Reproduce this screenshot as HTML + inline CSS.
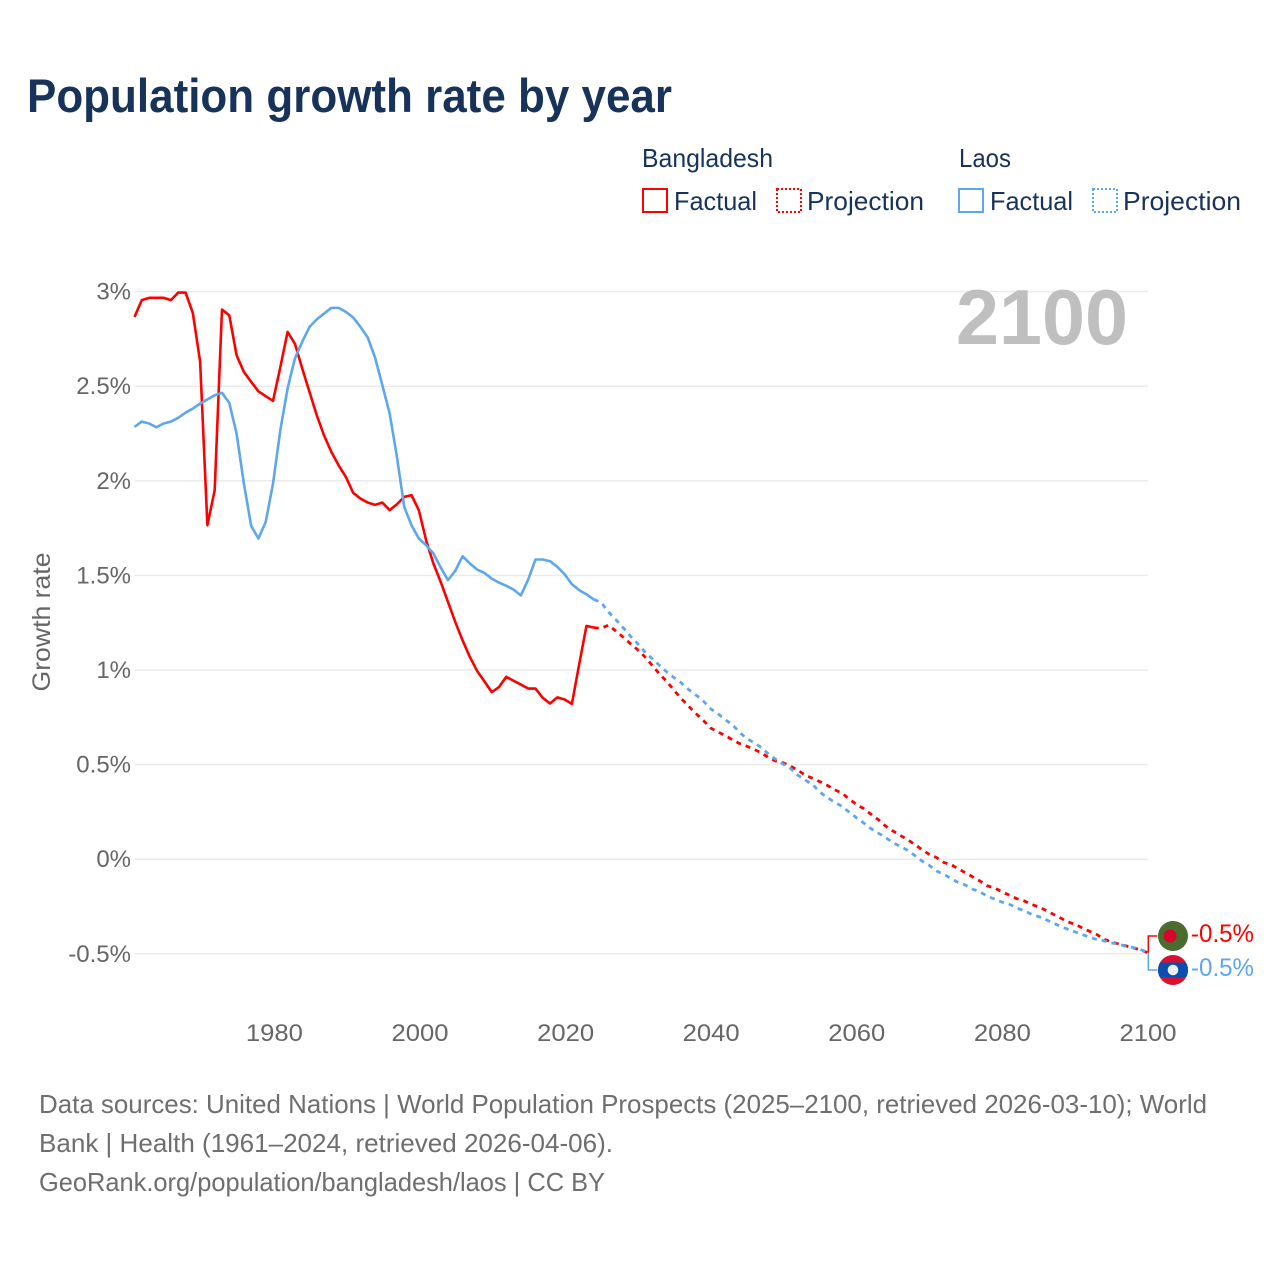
<!DOCTYPE html>
<html lang="en">
<head>
<meta charset="utf-8">
<title>Population growth rate by year</title>
<style>
html,body{margin:0;padding:0;background:#fff;}
svg{display:block;font-family:"Liberation Sans",sans-serif;}
</style>
</head>
<body>
<svg id="chart" xmlns="http://www.w3.org/2000/svg" width="1280" height="1280" viewBox="0 0 1280 1280">
  <rect x="0" y="0" width="1280" height="1280" fill="#ffffff"/>
  <text x="27" y="112" font-size="47" font-weight="700" fill="#18335a" textLength="645" lengthAdjust="spacingAndGlyphs">Population growth rate by year</text>

  <g font-size="26" fill="#18335a">
    <text x="642" y="167" textLength="131" lengthAdjust="spacingAndGlyphs">Bangladesh</text>
    <rect x="643" y="189" width="24" height="23" fill="none" stroke="#ff0000" stroke-width="2"/>
    <text x="674" y="210" textLength="83" lengthAdjust="spacingAndGlyphs">Factual</text>
    <rect x="777" y="189" width="24" height="23" fill="none" stroke="#ff0000" stroke-width="2" stroke-dasharray="2 2"/>
    <text x="807" y="210" textLength="117" lengthAdjust="spacingAndGlyphs">Projection</text>
    <text x="959" y="167" textLength="52" lengthAdjust="spacingAndGlyphs">Laos</text>
    <rect x="959" y="189" width="24" height="23" fill="none" stroke="#5ea6ee" stroke-width="2"/>
    <text x="990" y="210" textLength="83" lengthAdjust="spacingAndGlyphs">Factual</text>
    <rect x="1093" y="189" width="24" height="23" fill="none" stroke="#5ea6ee" stroke-width="2" stroke-dasharray="2 2"/>
    <text x="1123" y="210" textLength="118" lengthAdjust="spacingAndGlyphs">Projection</text>
  </g>

  <g id="grid"></g>
  <g id="yticks" font-size="24" fill="#666666" text-anchor="end"></g>
  <g id="xticks" font-size="24" fill="#666666" text-anchor="middle"></g>
  <text transform="translate(50,622) rotate(-90)" font-size="25" fill="#666666" text-anchor="middle" textLength="139" lengthAdjust="spacingAndGlyphs">Growth rate</text>
  <text x="956" y="344" font-size="78" font-weight="700" fill="#bfbfbf" textLength="172" lengthAdjust="spacingAndGlyphs">2100</text>

  <g id="series"></g>
  <g id="connectors"></g>

  <g>
    <circle cx="1173" cy="936" r="15" fill="#4c6b2f"/>
    <circle cx="1170" cy="936" r="6.5" fill="#d9042b"/>
  </g>
  <g>
    <clipPath id="laos-clip"><circle cx="1173" cy="970" r="15"/></clipPath>
    <circle cx="1173" cy="970" r="15" fill="#d9112f"/>
    <rect x="1158" y="962.5" width="30" height="15" fill="#0a4fb0" clip-path="url(#laos-clip)"/>
    <circle cx="1173" cy="970" r="5.3" fill="#eeeeee"/>
  </g>
  <text x="1191" y="942" font-size="25" fill="#ff0000" textLength="63" lengthAdjust="spacingAndGlyphs">-0.5%</text>
  <text x="1191" y="976" font-size="25" fill="#5ea6ee" textLength="63" lengthAdjust="spacingAndGlyphs">-0.5%</text>

  <g font-size="26" fill="#6e6e6e">
    <text x="39" y="1113" textLength="1168" lengthAdjust="spacingAndGlyphs">Data sources: United Nations | World Population Prospects (2025–2100, retrieved 2026-03-10); World</text>
    <text x="39" y="1152" textLength="574" lengthAdjust="spacingAndGlyphs">Bank | Health (1961–2024, retrieved 2026-04-06).</text>
    <text x="39" y="1191" textLength="566" lengthAdjust="spacingAndGlyphs">GeoRank.org/population/bangladesh/laos | CC BY</text>
  </g>
</svg>
<script>
const yTickValues = [3, 2.5, 2, 1.5, 1, 0.5, 0, -0.5];
const yTickLabels = ["3%", "2.5%", "2%", "1.5%", "1%", "0.5%", "0%", "-0.5%"];
const xTickYears = [1980, 2000, 2020, 2040, 2060, 2080, 2100];
const factualStartYear = 1961;
const projectionStartYear = 2024;
const bangladeshFactual = [
  2.866,2.955,2.967,2.967,2.967,2.955,2.995,2.995,2.887,2.63,
  1.765,1.95,2.905,2.875,2.664,2.576,2.523,2.473,2.447,2.422,
  2.6,2.787,2.725,2.595,2.47,2.347,2.24,2.153,2.082,2.02,
  1.936,1.906,1.885,1.873,1.885,1.845,1.876,1.915,1.924,1.845,
  1.686,1.563,1.466,1.36,1.254,1.157,1.069,0.995,0.94,0.883,
  0.91,0.964,0.943,0.923,0.902,0.902,0.853,0.823,0.855,0.844,
  0.821,1.03,1.233,1.224
];
const laosFactual = [
  2.285,2.313,2.303,2.283,2.303,2.313,2.333,2.36,2.382,2.408,
  2.43,2.452,2.465,2.412,2.25,1.987,1.762,1.695,1.783,1.985,
  2.267,2.488,2.646,2.734,2.813,2.853,2.884,2.914,2.914,2.893,
  2.863,2.813,2.757,2.651,2.505,2.356,2.126,1.862,1.765,1.695,
  1.66,1.616,1.542,1.475,1.524,1.601,1.563,1.531,1.513,1.483,
  1.462,1.445,1.425,1.394,1.478,1.584,1.584,1.575,1.545,1.506,
  1.453,1.422,1.40,1.373
];
const bangladeshProjection = [
  1.224,1.22,1.237,1.207,1.175,1.14,1.108,1.07,1.025,0.98,0.94,0.893,
  0.849,0.809,0.77,0.735,0.694,0.673,0.654,0.632,0.611,0.597,0.58,0.562,0.537,0.518,
  0.509,0.492,0.47,0.444,0.428,0.41,0.391,0.368,0.35,0.32,
  0.29,0.268,0.238,0.21,0.176,0.15,0.127,0.104,0.079,0.051,
  0.026,0.009,-0.017,-0.028,-0.051,-0.072,-0.094,-0.116,-0.141,-0.152,
  -0.173,-0.19,-0.208,-0.22,-0.238,-0.252,-0.27,-0.29,-0.31,-0.331,
  -0.344,-0.363,-0.381,-0.398,-0.423,-0.437,-0.448,-0.458,-0.469,-0.479,
  -0.495
];
const laosProjection = [
  1.373,1.358,1.307,1.267,1.225,1.18,1.14,1.096,1.06,1.025,0.99,0.96,
  0.932,0.897,0.868,0.837,0.796,0.77,0.738,0.712,0.67,0.638,0.615,0.59,0.555,0.527,
  0.502,0.479,0.444,0.418,0.395,0.356,0.326,0.303,0.28,0.25,
  0.22,0.192,0.162,0.139,0.115,0.088,0.069,0.048,0.021,-0.009,
  -0.032,-0.062,-0.079,-0.102,-0.123,-0.137,-0.159,-0.173,-0.196,-0.211,
  -0.227,-0.238,-0.257,-0.273,-0.29,-0.303,-0.319,-0.337,-0.354,-0.37,
  -0.384,-0.398,-0.412,-0.424,-0.432,-0.442,-0.449,-0.46,-0.467,-0.477,
  -0.493
];

const SVG_NS = "http://www.w3.org/2000/svg";
const RED = "#ff0000";
const BLUE = "#5ea6ee";
function xScale(year) { return 134.5 + (year - 1961) * 7.29; }
function xLabelScale(year) { return 420 + (year - 2000) * 7.28; }
function yScale(value) { return 859.2 - value * 189.2; }
function linePath(startYear, values) {
  return values.map(function (v, i) {
    return (i ? "L" : "M") + xScale(startYear + i).toFixed(2) + " " + yScale(v).toFixed(2);
  }).join("");
}

const gridGroup = document.getElementById("grid");
const yTickGroup = document.getElementById("yticks");
yTickValues.forEach(function (v, i) {
  const line = document.createElementNS(SVG_NS, "line");
  
  
  line.setAttribute("x1", xScale(factualStartYear));
  line.setAttribute("x2", xScale(2100));
  line.setAttribute("y1", yScale(v));
  line.setAttribute("y2", yScale(v));
  line.setAttribute("stroke", "#ebebeb");
  line.setAttribute("stroke-width", "1.5");
  gridGroup.appendChild(line);

  const label = document.createElementNS(SVG_NS, "text");
  
  
  label.setAttribute("x", 131);
  label.setAttribute("y", yScale(v) + 8);
  label.textContent = yTickLabels[i];
  yTickGroup.appendChild(label);
});

const xTickGroup = document.getElementById("xticks");
xTickYears.forEach(function (year) {
  const label = document.createElementNS(SVG_NS, "text");
  
  
  label.setAttribute("x", xLabelScale(year));
  label.setAttribute("y", 1041);
  label.setAttribute("textLength", 57);
  label.setAttribute("lengthAdjust", "spacingAndGlyphs");
  label.textContent = String(year);
  xTickGroup.appendChild(label);
});

const seriesGroup = document.getElementById("series");
function addLine(name, startYear, values, color, dashed) {
  const path = document.createElementNS(SVG_NS, "path");
  
  
  path.setAttribute("d", linePath(startYear, values));
  path.setAttribute("fill", "none");
  path.setAttribute("stroke", color);
  path.setAttribute("stroke-width", dashed ? "2.8" : "2.6");
  path.setAttribute("stroke-linejoin", "round");
  if (dashed) path.setAttribute("stroke-dasharray", "5 5");
  seriesGroup.appendChild(path);
}
addLine("bangladesh-factual-line", factualStartYear, bangladeshFactual, RED, false);
addLine("bangladesh-projection-line", projectionStartYear, bangladeshProjection, RED, true);
addLine("laos-factual-line", factualStartYear, laosFactual, BLUE, false);
addLine("laos-projection-line", projectionStartYear, laosProjection, BLUE, true);

const connectorGroup = document.getElementById("connectors");
function addConnector(name, lastValue, labelY, color) {
  const x0 = xScale(2100) + 0.5;
  const path = document.createElementNS(SVG_NS, "path");
  
  
  path.setAttribute("d", "M" + x0 + " " + yScale(lastValue) + "V" + labelY + "H" + (x0 + 9));
  path.setAttribute("fill", "none");
  path.setAttribute("stroke", color);
  path.setAttribute("stroke-width", "1.5");
  connectorGroup.appendChild(path);
}
addConnector("bangladesh-connector", bangladeshProjection[bangladeshProjection.length - 1], 936, RED);
addConnector("laos-connector", laosProjection[laosProjection.length - 1], 970, BLUE);
</script>
</body>
</html>
